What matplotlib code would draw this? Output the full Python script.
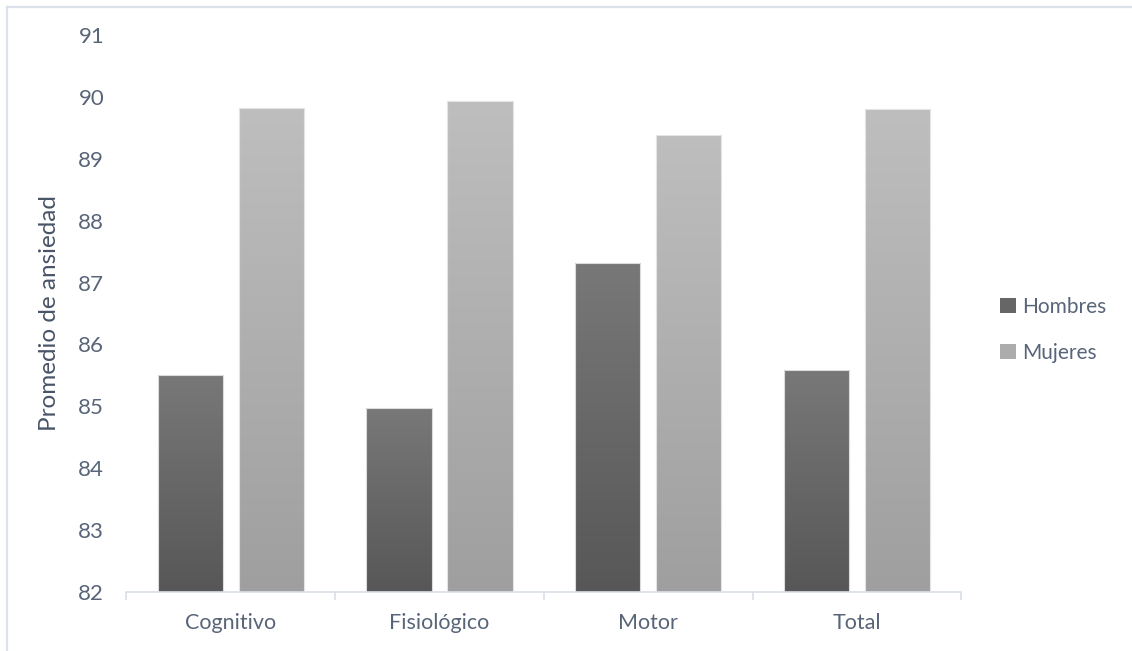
import matplotlib
matplotlib.use('Agg')
import matplotlib.pyplot as plt
import numpy as np
from matplotlib.colors import LinearSegmentedColormap
from matplotlib.lines import Line2D
from matplotlib.patches import Patch

categories = ['Cognitivo', 'Fisiológico', 'Motor', 'Total']
hombres = [85.51, 84.97, 87.32, 85.58]
mujeres = [89.82, 89.94, 89.39, 89.80]
series_names = ['Hombres', 'Mujeres']

text_color = '#586478'
axis_color = '#d9dfe8'

plt.rcParams['font.family'] = ['Lato', 'DejaVu Sans']


def gradient_fill(ax, bars, top, bottom):
    cmap = LinearSegmentedColormap.from_list('g', [bottom, top])
    grad = np.linspace(0, 1, 256).reshape(-1, 1)
    for b in bars:
        x0, y0 = b.get_x(), b.get_y()
        w, h = b.get_width(), b.get_height()
        im = ax.imshow(grad, cmap=cmap, origin='lower', aspect='auto',
                       extent=(x0, x0 + w, y0, y0 + h), zorder=2)
        im.set_clip_path(b)


def main():
    fig = plt.figure(figsize=(11.32, 6.51), dpi=100)
    ax = fig.add_axes([0.1117, 0.0906, 0.7375, 0.8556])

    x = np.arange(len(categories))
    width = 0.313
    off = 0.194
    base = 82
    b1 = ax.bar(x - off, np.array(hombres) - base, width, bottom=base,
                facecolor='none', edgecolor='#dcdcdc', linewidth=0.8, zorder=3)
    b2 = ax.bar(x + off, np.array(mujeres) - base, width, bottom=base,
                facecolor='none', edgecolor='#e4e4e4', linewidth=0.8, zorder=3)
    gradient_fill(ax, b1, '#787878', '#575757')
    gradient_fill(ax, b2, '#bebebe', '#9f9f9f')

    ax.set_xlim(-0.5, len(categories) - 0.5)
    ax.set_ylim(82, 91)
    ax.set_yticks(np.arange(82, 92))
    ax.set_xticks(x)
    ax.set_xticklabels(categories)
    ax.set_xticks(np.arange(-0.5, len(categories)), minor=True)

    for s in ['top', 'right', 'left']:
        ax.spines[s].set_visible(False)
    ax.spines['bottom'].set_color(axis_color)
    ax.spines['bottom'].set_linewidth(1.2)

    ax.tick_params(axis='x', which='major', length=0, pad=15,
                   labelsize=15.5, labelcolor=text_color)
    ax.tick_params(axis='x', which='minor', length=6, width=1.2,
                   color=axis_color, direction='out')
    ax.tick_params(axis='y', length=0, pad=16, labelsize=16,
                   labelcolor=text_color)

    ax.set_ylabel('Promedio de ansiedad', fontsize=17.5, color='#485467',
                  labelpad=13)

    handles = [Patch(facecolor='#666666', edgecolor='none'),
               Patch(facecolor='#acacac', edgecolor='none')]
    leg = fig.legend(handles, series_names, loc='center left',
                     bbox_to_anchor=(0.867, 0.493), frameon=False,
                     fontsize=15, handlelength=0.75, handleheight=0.75,
                     handletextpad=0.3, labelspacing=1.25)
    for t in leg.get_texts():
        t.set_color(text_color)

    # light frame of the chart area (top and left edges)
    fig.add_artist(Line2D([0.0062, 0.0062], [0, 0.9892], color='#dbe2ea',
                          linewidth=1.6, transform=fig.transFigure))
    fig.add_artist(Line2D([0.0062, 1], [0.9892, 0.9892], color='#dbe2ea',
                          linewidth=1.6, transform=fig.transFigure))

    fig.savefig('out.png', dpi=100, facecolor='white')


if __name__ == '__main__':
    main()
